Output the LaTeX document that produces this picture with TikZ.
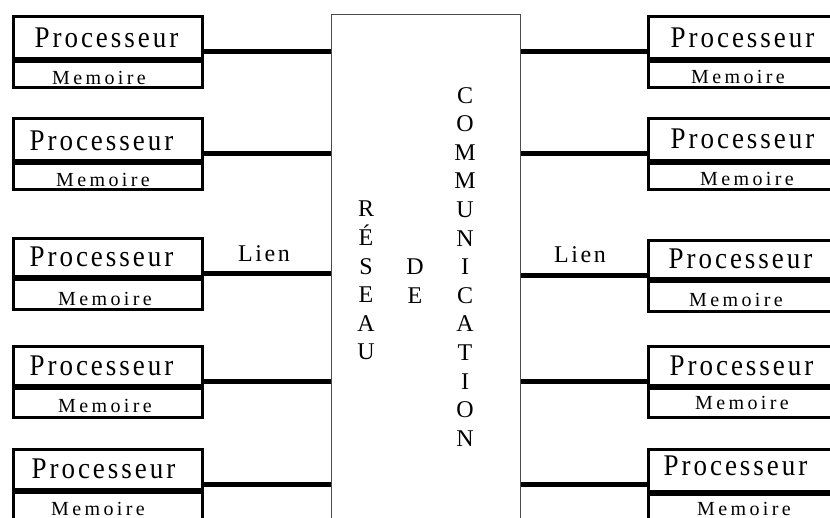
\documentclass[tikz,border=0pt]{standalone}
\usepackage{fontspec}
\setmainfont{Liberation Serif}
\newfontfamily\procfont[LetterSpace=10,FakeStretch=0.9]{Liberation Serif}
\newfontfamily\memfont[LetterSpace=17]{Liberation Serif}
\newfontfamily\lienfont[LetterSpace=11]{Liberation Serif}
\begin{document}
\begin{tikzpicture}[x=1pt,y=-1pt,
  unit/.style={draw=black, line width=3pt, minimum width=189pt, minimum height=71pt, inner sep=0pt, anchor=north west},
  sepline/.style={line width=6.5pt, line cap=butt},
  link/.style={line width=5pt, line cap=butt},
  proc/.style={anchor=base, inner sep=0pt, font=\procfont\fontsize{30}{36}\selectfont},
  mem/.style={anchor=base, inner sep=0pt, font=\memfont\fontsize{20}{24}\selectfont},
  lien/.style={anchor=base, inner sep=0pt, font=\lienfont\fontsize{24}{28}\selectfont},
  column/.style={anchor=north, inner sep=0pt, align=center, font=\fontsize{24}{28.6}\selectfont},
  network/.style={draw=black!70, line width=1.2pt, minimum width=189pt, minimum height=560pt, inner sep=0pt, anchor=north west}
]
\useasboundingbox (0,0) rectangle (830,517);
\clip (0,0) rectangle (830,517);

% central network
\node[network] (net) at (330.5,13.5) {};
\node[column] (reseau) at (366,201) {R\\É\\S\\E\\A\\U};
\node[column] (de) at (415,259) {D\\E};
\node[column] (comm) at (465,87) {C\\O\\M\\M\\U\\N\\I\\C\\A\\T\\I\\O\\N};

% left units
\node[unit] (L1) at (11.5,14.5) {};
\node[unit] (L2) at (11.5,116.5) {};
\node[unit] (L3) at (11.5,236.5) {};
\node[unit] (L4) at (11.5,344.5) {};
\node[unit] (L5) at (11.5,447.5) {};

% right units
\node[unit] (R1) at (646.5,14.5) {};
\node[unit] (R2) at (646.5,116.5) {};
\node[unit] (R3) at (646.5,238.5) {};
\node[unit] (R4) at (646.5,344.5) {};
\node[unit] (R5) at (646.5,447.5) {};

% separators
\draw[sepline] (L1.west |- 0,60) -- (L1.east |- 0,60);
\draw[sepline] (L2.west |- 0,162) -- (L2.east |- 0,162);
\draw[sepline] (L3.west |- 0,278) -- (L3.east |- 0,278);
\draw[sepline] (L4.west |- 0,387) -- (L4.east |- 0,387);
\draw[sepline] (L5.west |- 0,491) -- (L5.east |- 0,491);
\draw[sepline] (R1.west |- 0,60) -- (R1.east |- 0,60);
\draw[sepline] (R2.west |- 0,162) -- (R2.east |- 0,162);
\draw[sepline] (R3.west |- 0,280) -- (R3.east |- 0,280);
\draw[sepline] (R4.west |- 0,387) -- (R4.east |- 0,387);
\draw[sepline] (R5.west |- 0,493) -- (R5.east |- 0,493);

% texts
\node[proc] (pl1) at (106.5,47) {Processeur};
\node[proc] (pl2) at (101.5,150) {Processeur};
\node[proc] (pl3) at (101.5,266) {Processeur};
\node[proc] (pl4) at (101.5,375) {Processeur};
\node[proc] (pl5) at (103.5,478) {Processeur};
\node[proc] (pr1) at (742.5,47) {Processeur};
\node[proc] (pr2) at (742.5,148) {Processeur};
\node[proc] (pr3) at (740.5,268) {Processeur};
\node[proc] (pr4) at (741.5,375) {Processeur};
\node[proc] (pr5) at (735.5,475) {Processeur};

\node[mem] (ml1) at (99,84) {Memoire};
\node[mem] (ml2) at (103,186) {Memoire};
\node[mem] (ml3) at (105,305) {Memoire};
\node[mem] (ml4) at (105,412) {Memoire};
\node[mem] (ml5) at (98,515) {Memoire};
\node[mem] (mr1) at (738,83) {Memoire};
\node[mem] (mr2) at (747,185) {Memoire};
\node[mem] (mr3) at (736,306) {Memoire};
\node[mem] (mr4) at (742,409) {Memoire};
\node[mem] (mr5) at (744,515) {Memoire};

% links
\draw[link] (L1.east) -- (net.west |- L1.east);
\draw[link] (L2.east) -- (net.west |- L2.east);
\draw[link] (L3.east) -- (net.west |- L3.east);
\draw[link] (L4.east) -- (net.west |- L4.east);
\draw[link] (L5.east) -- (net.west |- L5.east);
\draw[link] (R1.west) -- (net.east |- R1.west);
\draw[link] (R2.west) -- (net.east |- R2.west);
\draw[link] (R3.west) -- (net.east |- R3.west);
\draw[link] (R4.west) -- (net.east |- R4.west);
\draw[link] (R5.west) -- (net.east |- R5.west);

\node[lien] (lienl) at (264,261) {Lien};
\node[lien] (lienr) at (580,262) {Lien};
\end{tikzpicture}
\end{document}
